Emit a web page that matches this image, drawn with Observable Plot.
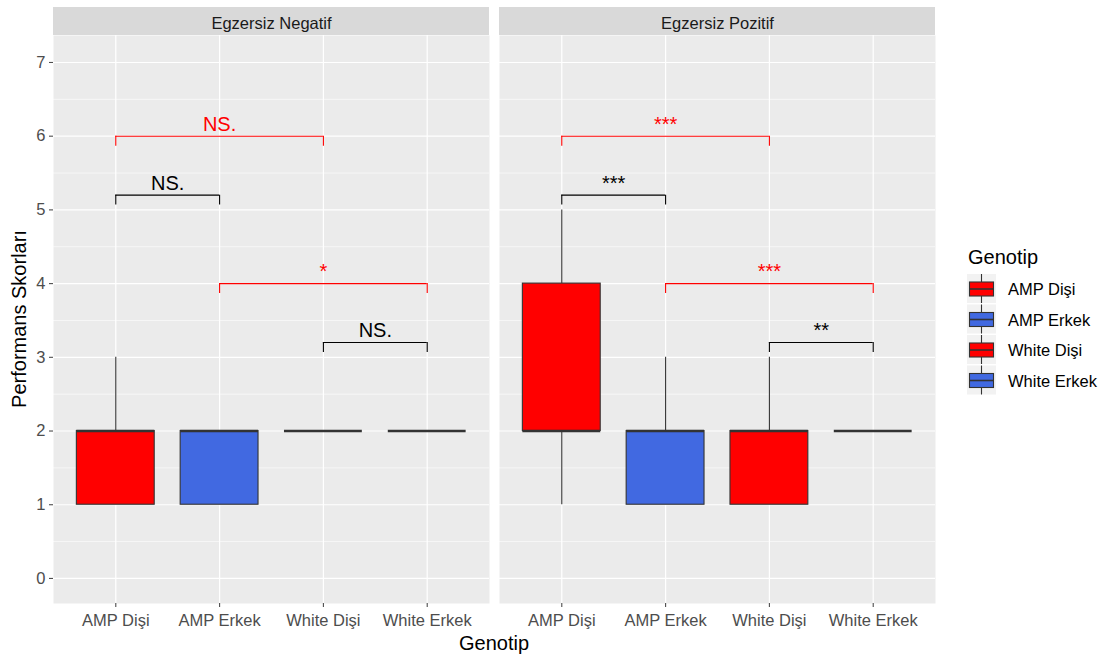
<!DOCTYPE html>
<html>
<head>
<meta charset="utf-8">
<script src="https://cdn.jsdelivr.net/npm/d3@7"></script>
<script src="https://cdn.jsdelivr.net/npm/@observablehq/plot@0.6"></script>
<style>
  body { margin: 0; background: #fff; font-family: "Liberation Sans", Arial, sans-serif; }
  #wrap { position: relative; width: 1106px; height: 662px; }
  #legend { position: absolute; left: 960px; top: 240px; }
</style>
</head>
<body>
<div id="wrap"></div>
<script>
// Categories
const genotypes = ["AMP Dişi", "AMP Erkek", "White Dişi", "White Erkek"];
const panels = ["Egzersiz Negatif", "Egzersiz Pozitif"];
const genotypeFill = ["red", "royalblue", "red", "royalblue"];
const yTicks = [0, 1, 2, 3, 4, 5, 6, 7];

// Box statistics per genotype — Egzersiz Negatif
const negLower  = [1, 1, 2, 2];
const negQ1     = [1, 1, 2, 2];
const negMedian = [2, 2, 2, 2];
const negQ3     = [2, 2, 2, 2];
const negUpper  = [3, 2, 2, 2];

// Box statistics per genotype — Egzersiz Pozitif
const pozLower  = [1, 1, 1, 2];
const pozQ1     = [2, 1, 1, 2];
const pozMedian = [2, 2, 2, 2];
const pozQ3     = [4, 2, 2, 2];
const pozUpper  = [5, 3, 3, 2];

// Significance brackets (genotype pairs, level, colour, labels per panel)
const bracketFrom  = ["AMP Dişi", "AMP Dişi", "AMP Erkek", "White Dişi"];
const bracketTo    = ["White Dişi", "AMP Erkek", "White Erkek", "White Erkek"];
const bracketLevel = [6, 5.2, 4, 3.2];
const bracketColor = ["red", "black", "red", "black"];
const negLabels = ["NS.", "NS.", "*", "NS."];
const pozLabels = ["***", "***", "***", "**"];

// ---- table construction ----
const stats = [
  {lower: negLower, q1: negQ1, median: negMedian, q3: negQ3, upper: negUpper},
  {lower: pozLower, q1: pozQ1, median: pozMedian, q3: pozQ3, upper: pozUpper}
];
const pos = g => genotypes.indexOf(g) + 1;
const halfBox = 0.375;

const boxes = [];
panels.forEach((p, k) => genotypes.forEach((g, i) => boxes.push({
  panel: p, genotip: g, x: pos(g),
  lower: stats[k].lower[i], q1: stats[k].q1[i], median: stats[k].median[i],
  q3: stats[k].q3[i], upper: stats[k].upper[i], fill: genotypeFill[i]
})));

const labelsByPanel = [negLabels, pozLabels];
const brackets = [];
panels.forEach((p, k) => bracketLevel.forEach((lvl, j) => brackets.push({
  panel: p, x1: pos(bracketFrom[j]), x2: pos(bracketTo[j]), y: lvl,
  label: labelsByPanel[k][j], color: bracketColor[j]
})));
const tip = 0.135;
const minorTicks = d3.range(0.5, 7, 1);
const smallFont = 16.5;

const chart = Plot.plot({
  width: 1106,
  height: 662,
  marginLeft: 53,
  marginRight: 171,
  marginTop: 35,
  marginBottom: 59,
  style: {fontFamily: "'Liberation Sans', Arial, sans-serif", background: "transparent", overflow: "visible"},
  fx: {domain: panels, paddingInner: 10 / 446, paddingOuter: 0, round: false},
  x: {domain: [0.4, 4.6]},
  y: {domain: [-0.34, 7.366]},
  color: {type: "identity"},
  marks: [
    Plot.frame({fill: "#EBEBEB", stroke: null}),
    Plot.ruleY(minorTicks, {stroke: "white", strokeWidth: 0.6}),
    Plot.ruleY(yTicks, {stroke: "white", strokeWidth: 1.2}),
    Plot.ruleX([1, 2, 3, 4], {stroke: "white", strokeWidth: 1.2}),
    Plot.axisFx({anchor: "top", tickSize: 0, tickPadding: 7, fontSize: smallFont, color: "#1A1A1A", label: null}),
    Plot.axisY({ticks: yTicks, tickSize: 4, tickPadding: 4, fontSize: smallFont, color: "#4D4D4D", strokeWidth: 1.1, label: null}),
    Plot.axisX({ticks: [1, 2, 3, 4], tickFormat: i => genotypes[i - 1], tickSize: 4, tickPadding: 7, fontSize: smallFont, color: "#4D4D4D", strokeWidth: 1.1, label: null}),
    // whiskers
    Plot.ruleX(boxes, {fx: "panel", x: "x", y1: "lower", y2: "q1", stroke: "#333333", strokeWidth: 1.1}),
    Plot.ruleX(boxes, {fx: "panel", x: "x", y1: "q3", y2: "upper", stroke: "#333333", strokeWidth: 1.1}),
    // boxes
    Plot.rect(boxes, {fx: "panel", x1: d => d.x - halfBox, x2: d => d.x + halfBox, y1: "q1", y2: "q3", fill: "fill", stroke: "#333333", strokeWidth: 1.1}),
    // medians
    Plot.ruleY(boxes, {fx: "panel", x1: d => d.x - halfBox, x2: d => d.x + halfBox, y: "median", stroke: "#333333", strokeWidth: 2.3}),
    // significance brackets
    Plot.ruleY(brackets, {fx: "panel", x1: "x1", x2: "x2", y: "y", stroke: "color", strokeWidth: 1.1}),
    Plot.ruleX(brackets, {fx: "panel", x: "x1", y1: d => d.y - tip, y2: "y", stroke: "color", strokeWidth: 1.1}),
    Plot.ruleX(brackets, {fx: "panel", x: "x2", y1: d => d.y - tip, y2: "y", stroke: "color", strokeWidth: 1.1}),
    Plot.text(brackets, {fx: "panel", x: d => (d.x1 + d.x2) / 2, y: "y", text: "label", fill: "color", fontSize: 20, dy: -12})
  ]
});

// facet strips behind the facet labels
const fxScale = chart.scale("fx");
const svg = d3.select(chart);
panels.forEach(p => {
  svg.insert("rect", ":first-child")
    .attr("x", fxScale.apply(p))
    .attr("y", 7)
    .attr("width", fxScale.bandwidth)
    .attr("height", 28)
    .attr("fill", "#D9D9D9");
});

// axis titles
const yScale = chart.scale("y");
svg.append("text")
  .attr("transform", `translate(19,${(yScale.range[0] + yScale.range[1]) / 2}) rotate(-90)`)
  .attr("text-anchor", "middle").attr("dominant-baseline", "central")
  .attr("font-size", 20).attr("fill", "black")
  .text("Performans Skorları");
svg.append("text")
  .attr("x", (fxScale.range[0] + fxScale.range[1]) / 2).attr("y", 643)
  .attr("text-anchor", "middle").attr("dominant-baseline", "central")
  .attr("font-size", 20).attr("fill", "black")
  .text("Genotip");

const wrap = document.getElementById("wrap");
wrap.appendChild(chart);

// legend with boxplot keys
const leg = d3.select(wrap).append("svg").attr("id", "legend")
  .attr("width", 146).attr("height", 170)
  .style("font-family", "'Liberation Sans', Arial, sans-serif");
leg.append("text").attr("x", 8).attr("y", 17).attr("dominant-baseline", "central")
  .attr("font-size", 20).attr("fill", "black").text("Genotip");
genotypes.forEach((g, i) => {
  const row = leg.append("g").attr("transform", `translate(7,${34 + i * 30.5})`);
  row.append("rect").attr("width", 29).attr("height", 29).attr("fill", "#F2F2F2");
  row.append("line").attr("x1", 14.5).attr("x2", 14.5).attr("y1", 0).attr("y2", 29)
    .attr("stroke", "#333333").attr("stroke-width", 1.1);
  row.append("rect").attr("x", 2.5).attr("y", 8).attr("width", 24).attr("height", 14)
    .attr("fill", genotypeFill[i]).attr("stroke", "#333333").attr("stroke-width", 1.1);
  row.append("line").attr("x1", 2.5).attr("x2", 26.5).attr("y1", 15).attr("y2", 15)
    .attr("stroke", "#333333").attr("stroke-width", 1.6);
  row.append("text").attr("x", 41).attr("y", 15).attr("dominant-baseline", "central")
    .attr("font-size", smallFont).attr("fill", "black").text(g);
});
</script>
</body>
</html>
